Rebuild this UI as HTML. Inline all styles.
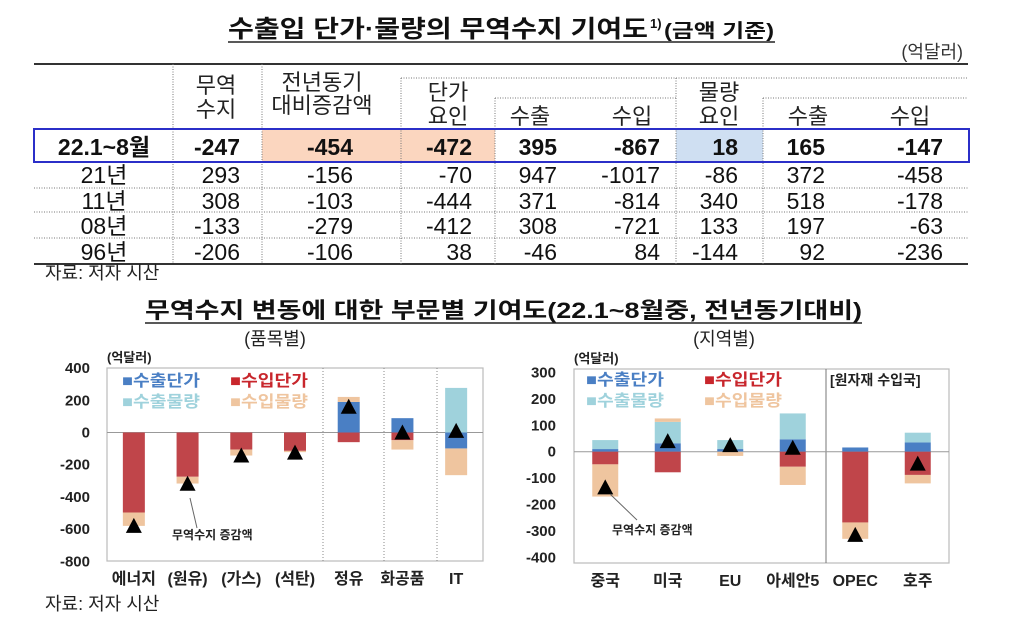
<!DOCTYPE html>
<html><head><meta charset="utf-8"><style>
body{margin:0;background:#fff;width:1024px;height:634px;overflow:hidden}
svg{font-family:"Liberation Sans","Noto Sans CJK KR",sans-serif}
</style></head><body>
<svg id="s" width="1024" height="634" viewBox="0 0 1024 634">
<g>
<text x="228" y="37" font-size="24" font-weight="bold" fill="#111" textLength="420" lengthAdjust="spacingAndGlyphs">수출입 단가·물량의 무역수지 기여도</text>
<text x="650" y="28" font-size="13" font-weight="bold" fill="#111">1)</text>
<text x="664" y="37" font-size="19" font-weight="bold" fill="#111" textLength="110" lengthAdjust="spacingAndGlyphs">(금액 기준)</text>
<line x1="228" y1="42" x2="775" y2="42" stroke="#222" stroke-width="1.5"/>
</g>
<text x="963" y="58" font-size="18" fill="#333" text-anchor="end">(억달러)</text>
<g id="table"></g>
<text x="45" y="279" font-size="18" fill="#222">자료: 저자 시산</text>
<g>
<text x="145" y="318" font-size="22" font-weight="bold" fill="#111" textLength="717" lengthAdjust="spacingAndGlyphs">무역수지 변동에 대한 부문별 기여도(22.1~8월중, 전년동기대비)</text>
<line x1="145" y1="323" x2="862" y2="323" stroke="#222" stroke-width="1.5"/>
</g>
<text x="275" y="345" font-size="18" fill="#222" text-anchor="middle">(품목별)</text>
<text x="724" y="345" font-size="18" fill="#222" text-anchor="middle">(지역별)</text>
<g id="c1"></g>
<g id="c2"></g>
<text x="45" y="610" font-size="18" fill="#222">자료: 저자 시산</text>
</svg>
<script>
// ---- table data
const rowLabels=["22.1~8월","21년","11년","08년","96년"];
const rowValues=[[-247,-454,-472,395,-867,18,165,-147],[293,-156,-70,947,-1017,-86,372,-458],[308,-103,-444,371,-814,340,518,-178],[-133,-279,-412,308,-721,133,197,-63],[-206,-106,38,-46,84,-144,92,-236]];
// ---- chart 1 data
const cats1=["에너지","(원유)","(가스)","(석탄)","정유","화공품","IT"];
const expPrice1=[0,0,0,0,190,89,-99];
const impPrice1=[-497,-275,-106,-114,-60,-48,0];
const expVol1=[0,0,0,0,0,0,277];
const impVol1=[-83,-42,-37,-8,31,-58,-166];
const net1=[-580,-318,-143,-125,160,0,10];
const ticks1=[400,200,0,-200,-400,-600,-800];
// ---- chart 2 data
const cats2=["중국","미국","EU","아세안5","OPEC","호주"];
const expPrice2=[10,32,10,47,16,35];
const impPrice2=[-48,-78,0,-57,-268,-88];
const expVol2=[34,81,34,98,0,37];
const impVol2=[-122,13,-16,-69,-62,-32];
const net2=[-135,40,25,15,-315,-45];
const ticks2=[300,200,100,0,-100,-200,-300,-400];

const NS="http://www.w3.org/2000/svg";
function mk(p,t,a,txt){const e=document.createElementNS(NS,t);for(const k in a)e.setAttribute(k,a[k]);if(txt!==undefined)e.textContent=txt;p.appendChild(e);return e;}

// ---- table
const T=document.getElementById('table');
mk(T,'line',{x1:34,y1:64,x2:968,y2:64,stroke:'#333','stroke-width':2});
mk(T,'line',{x1:34,y1:264,x2:968,y2:264,stroke:'#333','stroke-width':2});
mk(T,'rect',{x:262,y:129,width:233,height:33,fill:'#fbd6bf'});
mk(T,'rect',{x:676,y:129,width:87,height:33,fill:'#cfdff2'});
const dot={stroke:'#777','stroke-width':1,'stroke-dasharray':'1,1.5'};
[[173,64],[262,64],[401,78],[495,98],[676,78],[763,98]].forEach(v=>mk(T,'line',Object.assign({x1:v[0],y1:v[1],x2:v[0],y2:264},dot)));
mk(T,'line',Object.assign({x1:401,y1:78,x2:968,y2:78},dot));
mk(T,'line',Object.assign({x1:495,y1:98,x2:676,y2:98},dot));
mk(T,'line',Object.assign({x1:763,y1:98,x2:968,y2:98},dot));
[188,212,238].forEach(y=>mk(T,'line',Object.assign({x1:34,y1:y,x2:968,y2:y},dot)));
const hd=[[216,[["무역",93],["수지",117]]],[322,[["전년동기",90],["대비증감액",113]]],[448,[["단가",100],["요인",124]]],[530,[["수출",124]]],[632,[["수입",124]]],[719,[["물량",100],["요인",124]]],[808,[["수출",124]]],[910,[["수입",124]]]];
hd.forEach(h=>h[1].forEach(l=>{const t=mk(T,'text',{x:h[0],y:l[1],'font-size':22,fill:'#222','text-anchor':'middle'},l[0]);}));
const colR=[240,353,472,557,660,738,825,943];
const rowY=[155,183,209,234,260];
rowLabels.forEach((lab,i)=>{
 const b=i===0;
 const t=mk(T,'text',{x:104,y:rowY[i],'font-size':23,'font-weight':b?'bold':'normal',fill:'#111','text-anchor':'middle'},lab);
 
 rowValues[i].forEach((v,j)=>{const c=mk(T,'text',{x:colR[j],y:rowY[i],'font-size':23,'font-weight':b?'bold':'normal',fill:'#111','text-anchor':'end'},String(v));
 });
});
const hb=mk(T,'rect',{x:34,y:129,width:935,height:33,fill:'none',stroke:'#2b2fc8','stroke-width':2});


// ---- charts
const COL={ep:'#4a7fc4',ip:'#c0454a',ev:'#9fd2dc',iv:'#efc59f'};
function chart(g,o){
 const y=v=>o.y0+(-v)*o.ppu;
 mk(g,'rect',{x:o.x0,y:o.top,width:o.x1-o.x0,height:o.bot-o.top,fill:'none',stroke:'#bbb','stroke-width':1.2});
 o.seps.forEach(sx=>mk(g,'line',{x1:sx,y1:o.top,x2:sx,y2:o.bot,stroke:o.sepCol,'stroke-width':1,'stroke-dasharray':o.sepDash}));
 mk(g,'line',{x1:o.x0,y1:y(0),x2:o.x1,y2:y(0),stroke:'#999','stroke-width':1});
 o.ticks.forEach(t=>{const e=mk(g,'text',{x:o.tx,y:y(t)+5,'font-size':15,'font-weight':'bold',fill:'#222','text-anchor':'end'},String(t));});
 mk(g,'text',{x:o.x0,y:o.top-6,'font-size':13,'font-weight':'bold',fill:'#222'},'(억달러)');
 const series=[[o.ep,COL.ep,'export-price'],[o.ip,COL.ip,'import-price'],[o.ev,COL.ev,'export-volume'],[o.iv,COL.iv,'import-volume']];
 const n=o.cats.length, slot=(o.x1-o.x0)/n;
 o.cats.forEach((c,i)=>{
  const cx=o.x0+slot*(i+0.5); let pos=0,neg=0;
  series.forEach(s=>{const v=s[0][i]; if(!v)return; let a,b; if(v>0){a=pos;b=pos+v;pos=b;}else{a=neg;b=neg+v;neg=b;}
   const r=mk(g,'rect',{x:cx-o.bw/2,y:Math.min(y(a),y(b)),width:o.bw,height:Math.abs(y(a)-y(b)),fill:s[1]});
   });
  const ty=y(o.net[i]);
  const tr=mk(g,'polygon',{points:`${cx-8},${ty+7} ${cx+8},${ty+7} ${cx},${ty-8}`,fill:'#000'});
  
  const l=mk(g,'text',{x:cx,y:o.bot+23,'font-size':16,'font-weight':'bold',fill:'#222','text-anchor':'middle'},c);
  
 });
 const lg=[['■수출단가',COL.ep,0,0],['■수입단가','#c8262c',1,0],['■수출물량',COL.ev,0,1],['■수입물량',COL.iv,1,1]];
 lg.forEach(e=>{const t=mk(g,'text',{x:o.lx+e[2]*o.ldx,y:o.ly+e[3]*21,'font-size':16,'font-weight':'bold',fill:e[1],textLength:78,lengthAdjust:'spacingAndGlyphs'},e[0]);});
 mk(g,'line',{x1:o.ann[0],y1:o.ann[1],x2:o.ann[2],y2:o.ann[3],stroke:'#666','stroke-width':1});
 mk(g,'text',{x:o.ann[4],y:o.ann[5],'font-size':12,'font-weight':'bold',fill:'#222'},'무역수지 증감액');
}
chart(document.getElementById('c1'),{x0:107,x1:483,top:368,bot:561,y0:432.5,ppu:32.2/200,seps:[323,384,437],sepCol:'#888',sepDash:'1,2',
 ticks:ticks1,tx:90,cats:cats1,ep:expPrice1,ip:impPrice1,ev:expVol1,iv:impVol1,net:net1,bw:22,lx:122,ly:386,ldx:108,ann:[190,498,197,528,172,539]});
chart(document.getElementById('c2'),{x0:574,x1:949,top:369,bot:563,y0:451.7,ppu:26.4/100,seps:[826],sepCol:'#777',sepDash:'none',
 ticks:ticks2,tx:556,cats:cats2,ep:expPrice2,ip:impPrice2,ev:expVol2,iv:impVol2,net:net2,bw:26,lx:586,ly:385,ldx:118,ann:[610,494,637,520,612,534]});
mk(document.getElementById('c2'),'text',{x:830,y:385,'font-size':14,'font-weight':'bold',fill:'#222'},'[원자재 수입국]');
</script>
</body></html>
